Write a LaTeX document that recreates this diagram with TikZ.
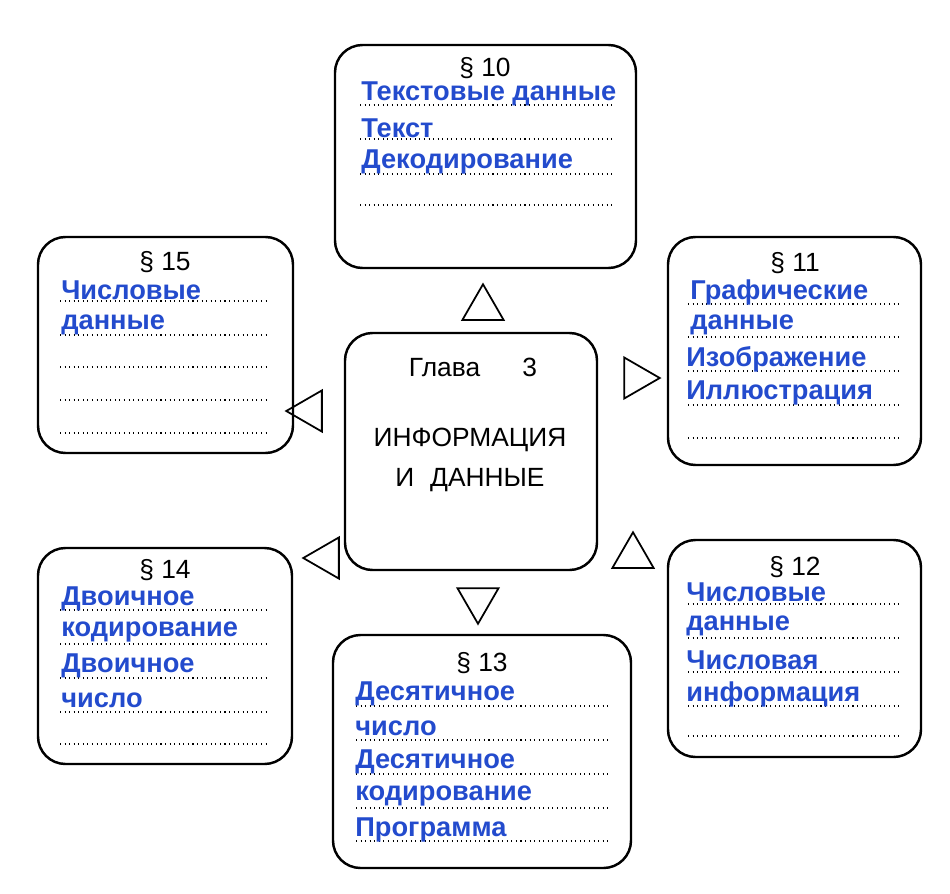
\documentclass[tikz,border=0pt]{standalone}
\usepackage{fontspec}
\setmainfont{Liberation Sans}
\usetikzlibrary{shapes.geometric}
\definecolor{ink}{RGB}{35,75,205}
\begin{document}
\begin{tikzpicture}[x=0.02cm,y=-0.02cm,
  box/.style={draw,line width=1.4pt,rounded corners=0.55cm},
  ttl/.style={font=\fontsize{15}{18}\selectfont,inner sep=0pt},
  bl/.style={font=\fontsize{15.5}{18}\selectfont\bfseries,text=ink,inner sep=0pt,anchor=west},
  dl/.style={dotted,line width=0.6pt},
  tri/.style={draw,line width=1pt,regular polygon,regular polygon sides=3,minimum size=0.95cm,inner sep=0pt}]
\useasboundingbox (0,0) rectangle (950,893);
% boxes
\draw[box] (335,45) rectangle (636,268);
\draw[box] (38,237) rectangle (293,453);
\draw[box] (345,333) rectangle (597,570);
\draw[box] (668,237) rectangle (921,465);
\draw[box] (668,540) rectangle (921,757);
\draw[box] (38,548) rectangle (292,764);
\draw[box] (333,635) rectangle (631,868);
% dotted lines
\foreach \y in {105,139,174,205} \draw[dl] (360,\y) -- (612,\y);
\foreach \y in {301,335,367,400,433} \draw[dl] (60,\y) -- (270,\y);
\foreach \y in {304,337,371,405,438} \draw[dl] (688,\y) -- (900,\y);
\foreach \y in {604,638,672,706,736} \draw[dl] (688,\y) -- (900,\y);
\foreach \y in {610,644,678,712,744} \draw[dl] (60,\y) -- (270,\y);
\foreach \y in {706,740,774,808,841} \draw[dl] (356,\y) -- (610,\y);
% titles
\node[ttl] (t10) at (485,68) {§ 10};
\node[ttl] (t15) at (165,262) {§ 15};
\node[ttl] (t11) at (795,263) {§ 11};
\node[ttl] (t12) at (795,567) {§ 12};
\node[ttl] (t14) at (165,570) {§ 14};
\node[ttl] (t13) at (482,663) {§ 13};
% blue texts
\node[bl] (a1) at (361,94) {Текстовые данные};
\node[bl] (a2) at (361,128) {Текст};
\node[bl] (a3) at (361,162) {Декодирование};
\node[bl] (c1) at (61,290) {Числовые};
\node[bl] (c2) at (61,325) {данные};
\node[bl] (d1) at (690,292) {Графические};
\node[bl] (d2) at (690,325) {данные};
\node[bl] (d3) at (686,359) {Изображение};
\node[bl] (d4) at (686,393) {Иллюстрация};
\node[bl] (e1) at (686,592) {Числовые};
\node[bl] (e2) at (686,626) {данные};
\node[bl] (e3) at (686,660) {Числовая};
\node[bl] (e4) at (686,694) {информация};
\node[bl] (f1) at (61,599) {Двоичное};
\node[bl] (f2) at (61,632) {кодирование};
\node[bl] (f3) at (61,666) {Двоичное};
\node[bl] (f4) at (61,700) {число};
\node[bl] (g1) at (355,694) {Десятичное};
\node[bl] (g2) at (355,728) {число};
\node[bl] (g3) at (355,762) {Десятичное};
\node[bl] (g4) at (355,796) {кодирование};
\node[bl] (g5) at (355,830) {Программа};
% centre
\node[ttl] (h1) at (473,367) {Глава\hspace{1.6em}3};
\node[ttl] (h2) at (470,440) {ИНФОРМАЦИЯ};
\node[ttl] (h3) at (470,480) {И\hspace{0.6em}ДАННЫЕ};
% triangles
\node[tri,shape border rotate=0] (u1) at (483,308) {};
\node[tri,shape border rotate=-90] (r1) at (636,378) {};
\node[tri,shape border rotate=90] (l1) at (310,411) {};
\node[tri,shape border rotate=90] (l2) at (327,558) {};
\node[tri,shape border rotate=180] (d0) at (478,600) {};
\node[tri,shape border rotate=0] (u2) at (633,556) {};
\end{tikzpicture}
\end{document}
